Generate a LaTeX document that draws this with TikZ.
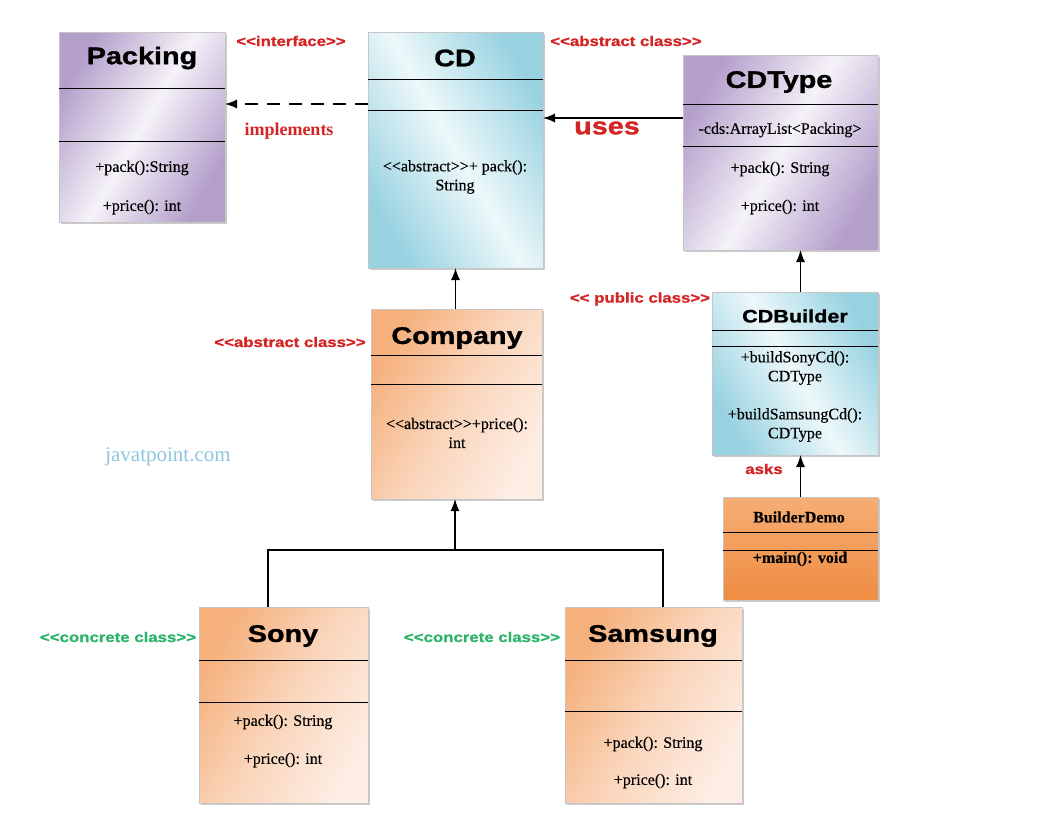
\documentclass[tikz,border=0pt]{standalone}
\usepackage{fontspec}
\setmainfont{Liberation Serif}
\newfontfamily\bodyfont{Liberation Serif}[FakeBold=0.4]
\newfontfamily\headfont{Liberation Sans}[FakeStretch=1.2, BoldFeatures={FakeBold=1.2}]
\usetikzlibrary{arrows.meta,shadows}

\definecolor{lilacdark}{HTML}{B49FCB}
\definecolor{lilaclight}{HTML}{F5F2F8}
\definecolor{cyandark}{HTML}{98D2E1}
\definecolor{cyanlight}{HTML}{EDF8FA}
\definecolor{peachdark}{HTML}{F5B07C}
\definecolor{peachlight}{HTML}{FDEDE3}
\definecolor{orangedark}{HTML}{EF8C42}
\definecolor{orangelight}{HTML}{F6AE74}
\definecolor{labred}{HTML}{D42424}
\definecolor{labgreen}{HTML}{2DB36A}
\definecolor{webblue}{HTML}{8CC6DE}

\tikzset{
  box/.style={draw=gray!45, inner sep=0pt, outer sep=0pt,
    drop shadow={shadow xshift=2pt, shadow yshift=-2pt, fill=gray!70, opacity=.6}},
  lilacbox/.style={box, left color=lilacdark, right color=lilacdark, middle color=lilaclight, shading angle=60},
  cyanbox/.style={box, left color=cyandark, right color=cyandark, middle color=cyanlight, shading angle=120},
  peachbox/.style={box, left color=peachdark, right color=peachlight, middle color=peachlight!60!peachdark, shading angle=60},
  orangebox/.style={box, top color=orangelight, bottom color=orangedark},
  title/.style={font=\headfont\bfseries\fontsize{24}{28}\selectfont},
  body/.style={font=\bodyfont\fontsize{16}{19}\selectfont, align=center},
  redlabel/.style={font=\headfont\bfseries\fontsize{14}{16}\selectfont, text=labred},
  greenlabel/.style={font=\headfont\bfseries\fontsize{14}{16}\selectfont, text=labgreen},
  arr/.style={-{Latex[length=12pt,width=9pt]}, line width=1.3pt},
}

\begin{document}
\begin{tikzpicture}[x=1pt,y=-1pt]
  \useasboundingbox (0,0) rectangle (1057,833);

  % class boxes
  \node[lilacbox, minimum width=166pt, minimum height=190pt] (packing) at (142,127) {};
  \node[cyanbox, minimum width=175pt, minimum height=236pt] (cd) at (455.5,150) {};
  \node[lilacbox, minimum width=195pt, minimum height=195pt] (cdtype) at (780.5,152.5) {};
  \node[cyanbox, minimum width=166pt, minimum height=163pt] (builder) at (795,373.5) {};
  \node[orangebox, minimum width=155pt, minimum height=103pt] (demo) at (800.5,548.5) {};
  \node[peachbox, minimum width=171pt, minimum height=190pt] (company) at (456.5,404) {};
  \node[peachbox, minimum width=169pt, minimum height=196pt] (sony) at (283.5,705) {};
  \node[peachbox, minimum width=177pt, minimum height=196pt] (samsung) at (653.5,705) {};

  % compartment lines
  \foreach \n/\a/\b in {packing/88/141, cd/79/110, cdtype/104/146, builder/330/346,
                        demo/532/550, company/355/384, sony/660/702, samsung/660/711} {
    \draw[line width=1pt] (\n.west |- 0,\a) -- (\n.east |- 0,\a);
    \draw[line width=1pt] (\n.west |- 0,\b) -- (\n.east |- 0,\b);
  }

  % class names
  \node[title] (packingname) at (142,58) {Packing};
  \node[title] (cdname) at (455,58) {CD};
  \node[title] (cdtypename) at (779,82) {CDType};
  \node[title, font=\headfont\bfseries\fontsize{18}{22}\selectfont] (buildername) at (795,316) {CDBuilder};
  \node[body, font=\bodyfont\bfseries\fontsize{16}{19}\selectfont] (demoname) at (799,517) {BuilderDemo};
  \node[title] (companyname) at (457,338) {Company};
  \node[title] (sonyname) at (283,636) {Sony};
  \node[title] (samsungname) at (653,636) {Samsung};

  % operations
  \node[body] (packingpack) at (142,168) {+pack():String};
  \node[body] (packingprice) at (142,207) {+price(): int};
  \node[body] (cdpack) at (455,177) {<{}<abstract>{}>+ pack():\\String};
  \node[body] (cdtypecds) at (780,130) {-cds:ArrayList<Packing>};
  \node[body] (cdtypepack) at (780,169) {+pack(): String};
  \node[body] (cdtypeprice) at (780,207) {+price(): int};
  \node[body] (buildsony) at (795,368) {+buildSonyCd():\\CDType};
  \node[body] (buildsamsung) at (795,425) {+buildSamsungCd():\\CDType};
  \node[body, font=\bodyfont\bfseries\fontsize{16}{19}\selectfont] (demomain) at (800,559) {+main(): void};
  \node[body] (companyprice) at (457,433) {<{}<abstract>{}>+price():\\int};
  \node[body] (sonypack) at (283,722) {+pack(): String};
  \node[body] (sonyprice) at (283,760) {+price(): int};
  \node[body] (samsungpack) at (653,744) {+pack(): String};
  \node[body] (samsungprice) at (653,781) {+price(): int};

  % stereotypes and notes
  \node[redlabel] (interfacelabel) at (291,41) {<<interface>>};
  \node[redlabel] (cdlabel) at (626,41) {<<abstract class>>};
  \node[redlabel] (builderlabel) at (640,299) {<< public class>>};
  \node[redlabel] (companylabel) at (290,342) {<<abstract class>>};
  \node[greenlabel] (sonylabel) at (118,637) {<<concrete class>>};
  \node[greenlabel] (samsunglabel) at (482,637) {<<concrete class>>};
  \node[font=\bfseries\fontsize{18}{21}\selectfont, text=labred] (implementslabel) at (289,131) {implements};
  \node[redlabel, font=\headfont\bfseries\fontsize{24}{28}\selectfont] (useslabel) at (607,128) {uses};
  \node[redlabel] (askslabel) at (764,469) {asks};
  \node[font=\fontsize{21}{24}\selectfont, text=webblue] (weblabel) at (168,457) {javatpoint.com};

  % connectors
  \draw[arr, dash pattern=on 13pt off 9pt] (cd.west |- 0,104) -- (packing.east |- 0,104);
  \draw[arr] (cdtype.west |- 0,118) -- (cd.east |- 0,118);
  \draw[arr] (company.north -| cd.south) -- (cd.south);
  \draw[arr] (builder.north -| demo.north) -- (demo.north |- cdtype.south);
  \draw[arr] (demo.north) -- (demo.north |- builder.south);
  \coordinate (fork) at (455,550);
  \draw[line width=1.3pt] (sony.north -| 268,0) |- (fork) -| (samsung.north -| 663,0);
  \draw[arr] (fork) -- (fork |- company.south);
\end{tikzpicture}
\end{document}
